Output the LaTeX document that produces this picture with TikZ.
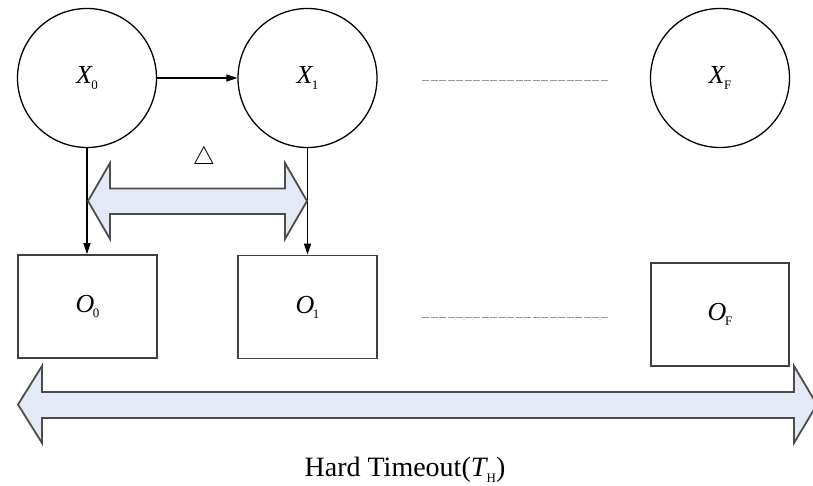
\documentclass[tikz,border=0pt]{standalone}
\usepackage{fontspec}
\setmainfont{Liberation Serif}
\usetikzlibrary{arrows.meta}
\definecolor{spanfill}{HTML}{E4EAF5}
\newcommand{\lbl}[2]{\textit{#1}\kern-0.05em\raisebox{-0.2em}{\fontsize{13}{13}\selectfont #2}}
\begin{document}
\begin{tikzpicture}[x=1pt,y=-1pt,
  state/.style={circle,draw,line width=1.3pt,minimum size=139pt,inner sep=0pt,
    font=\fontsize{26}{30}\selectfont},
  obs/.style={rectangle,draw=black!75,line width=1.8pt,minimum width=139pt,
    minimum height=103pt,inner sep=0pt,font=\fontsize{26}{30}\selectfont},
  link/.style={line width=1.2pt,-{Triangle[length=11pt,width=7pt]}},
  etc/.style={draw=black!40,line width=1pt,dash pattern=on 7pt off 1.5pt},
  span/.style={draw=black!70,line width=1.8pt,fill=spanfill,line join=miter}
]
\useasboundingbox (0,0) rectangle (813,486);

% hidden states
\node[state] (x0) at (87,78) {\lbl{X}{0}};
\node[state] (x1) at (307.5,78) {\lbl{X}{1}};
\node[state] (xf) at (720,78) {\lbl{X}{F}};

% observations
\node[obs] (o0) at (87.5,306.5) {\lbl{O}{0}};
\node[obs] (o1) at (307.5,307) {\lbl{O}{1}};
\node[obs,minimum width=138pt] (of) at (720,314.5) {\lbl{O}{F}};

% transitions and emissions
\draw[link] (x0) -- (x1);
\draw[link] (x0.south) -- (x0.south |- o0.north);
\draw[link] (x1.south) -- (x1.south |- o1.north);

% ellipsis lines
\draw[etc] (422,81) -- (608,81);
\draw[etc] (422,317) -- (608,317);

% interval between two states
\draw[span] (88,201) -- (110,163) -- (110,188.5) -- (285,188.5) -- (285,163)
  -- (307,201) -- (285,239) -- (285,214) -- (110,214) -- (110,239) -- cycle;
\node[font=\fontsize{26}{30}\selectfont] (delta) at (204,158) {$\triangle$};

% overall timeout span
\draw[span] (18,404.5) -- (42,366) -- (42,392) -- (794,392) -- (794,366)
  -- (817,404.5) -- (794,443) -- (794,418) -- (42,418) -- (42,443) -- cycle;
\node[font=\fontsize{28}{32}\selectfont] (th) at (405,470)
  {Hard Timeout(\lbl{T}{H})};
\end{tikzpicture}
\end{document}
